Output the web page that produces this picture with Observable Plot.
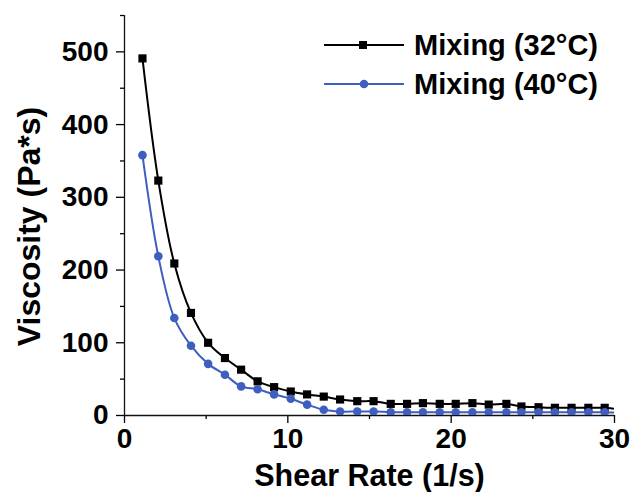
<!DOCTYPE html>
<html>
<head>
<meta charset="utf-8">
<script src="https://cdn.jsdelivr.net/npm/d3@7"></script>
<script src="https://cdn.jsdelivr.net/npm/@observablehq/plot@0.6"></script>
<style>
  html, body { margin: 0; padding: 0; background: #fff; }
  #wrap { position: relative; width: 633px; height: 492px; }
  #legend { position: absolute; left: 0; top: 0; pointer-events: none; }
</style>
</head>
<body>
<div id="wrap"></div>
<script>
// Shear rate (1/s)
const shearRate = [1.1, 2.07, 3.05, 4.07, 5.12, 6.15, 7.14, 8.15, 9.16, 10.18,
  11.18, 12.2, 13.2, 14.25, 15.25, 16.3, 17.3, 18.27, 19.3, 20.28,
  21.3, 22.3, 23.38, 24.3, 25.35, 26.35, 27.37, 28.4, 29.4, 30.4];
// Viscosity (Pa*s)
const mix32 = [491, 323, 209, 141, 100, 79, 63, 47, 39, 33,
  29, 26, 22, 19.7, 19.7, 16, 16, 17, 16, 16,
  17, 15, 16, 12.4, 11.4, 10.6, 10.6, 10.6, 10.6, 8];
const mix40 = [358, 219, 134, 96, 71, 56, 40, 36, 29, 23,
  15, 8, 5.5, 5.5, 5.5, 4.5, 4.5, 4.5, 4.5, 4.5,
  4.5, 4.5, 4.5, 4.5, 4.5, 4.5, 4.5, 4.5, 4.5, 3.5];
const seriesNames = ["Mixing (32°C)", "Mixing (40°C)"];
const xMajorTicks = [0, 10, 20, 30];
const xMinorTicks = [5, 15, 25];
const yMajorTicks = [0, 100, 200, 300, 400, 500];
const yMinorTicks = [50, 150, 250, 350, 450, 550];
const xTitle = "Shear Rate (1/s)";
const yTitle = "Viscosity (Pa*s)";

const BLUE = "#3f5fbf";
const data32 = shearRate.map((x, i) => ({x, y: mix32[i]}));
const data40 = shearRate.map((x, i) => ({x, y: mix40[i]}));
const font = "'Liberation Sans', Arial, Helvetica, sans-serif";

const chart = Plot.plot({
  width: 633,
  height: 492,
  marginLeft: 124,
  marginRight: 19,
  marginTop: 15,
  marginBottom: 77,
  x: {domain: [0, 30]},
  y: {domain: [0, 550]},
  style: {fontFamily: font, fontWeight: "bold", fontSize: "28px", color: "#000", background: "#fff", overflow: "visible"},
  marks: [
    Plot.axisX({ticks: xMajorTicks, tickSize: 8, tickPadding: 5, tickFormat: d => String(d), label: null, fontSize: 28, fontWeight: "bold", strokeWidth: 1.3}),
    Plot.axisX({ticks: xMinorTicks, tickSize: 4, tickFormat: () => "", label: null, strokeWidth: 1.3}),
    Plot.axisY({ticks: yMajorTicks, tickSize: 8, tickPadding: 8, tickFormat: d => String(d), label: null, fontSize: 28, fontWeight: "bold", strokeWidth: 1.3}),
    Plot.axisY({ticks: yMinorTicks, tickSize: 4, tickFormat: () => "", label: null, strokeWidth: 1.3}),
    Plot.ruleY([0], {stroke: "#111", strokeWidth: 1.3}),
    Plot.ruleX([0], {stroke: "#111", strokeWidth: 1.3}),
    Plot.line(data32, {x: "x", y: "y", stroke: "#000", strokeWidth: 2, curve: "catmull-rom", clip: true}),
    Plot.line(data40, {x: "x", y: "y", stroke: BLUE, strokeWidth: 2, curve: "catmull-rom", clip: true}),
    Plot.dot(data32, {x: "x", y: "y", symbol: "square", r: 4.6, fill: "#000", stroke: "none", clip: true}),
    Plot.dot(data40, {x: "x", y: "y", symbol: "circle", r: 4.3, fill: BLUE, stroke: "none", clip: true}),
    Plot.text([xTitle], {frameAnchor: "bottom", dy: 61, fontSize: 30.5, fontWeight: "bold", fill: "#000", textAnchor: "middle", lineAnchor: "middle"}),
    Plot.text([yTitle], {frameAnchor: "left", rotate: -90, dx: -95, dy: 11, fontSize: 32, fontWeight: "bold", fill: "#000", textAnchor: "middle", lineAnchor: "middle"})
  ]
});

// make sure tick labels use the large bold font
d3.select(chart).selectAll('g[aria-label$="tick label"]')
  .attr("font-size", 28).attr("font-weight", "bold")
  .selectAll("text").attr("font-size", 28);

const wrap = document.getElementById("wrap");
wrap.appendChild(chart);

// Legend overlay
const leg = d3.select(wrap).append("svg")
  .attr("id", "legend")
  .attr("width", 633).attr("height", 492);
const rows = [
  {name: seriesNames[0], color: "#000", sym: "square", y: 45},
  {name: seriesNames[1], color: BLUE, sym: "circle", y: 84}
];
rows.forEach(r => {
  leg.append("line").attr("x1", 324).attr("x2", 404).attr("y1", r.y).attr("y2", r.y)
    .attr("stroke", r.color).attr("stroke-width", 2);
  if (r.sym === "square") {
    leg.append("rect").attr("x", 363 - 4).attr("y", r.y - 4).attr("width", 8).attr("height", 8).attr("fill", r.color);
  } else {
    leg.append("circle").attr("cx", 364).attr("cy", r.y).attr("r", 4.3).attr("fill", r.color);
  }
  leg.append("text").attr("x", 414).attr("y", r.y).attr("dominant-baseline", "central")
    .attr("font-family", font).attr("font-weight", "bold").attr("font-size", 29).attr("fill", "#000")
    .text(r.name);
});
</script>
</body>
</html>
